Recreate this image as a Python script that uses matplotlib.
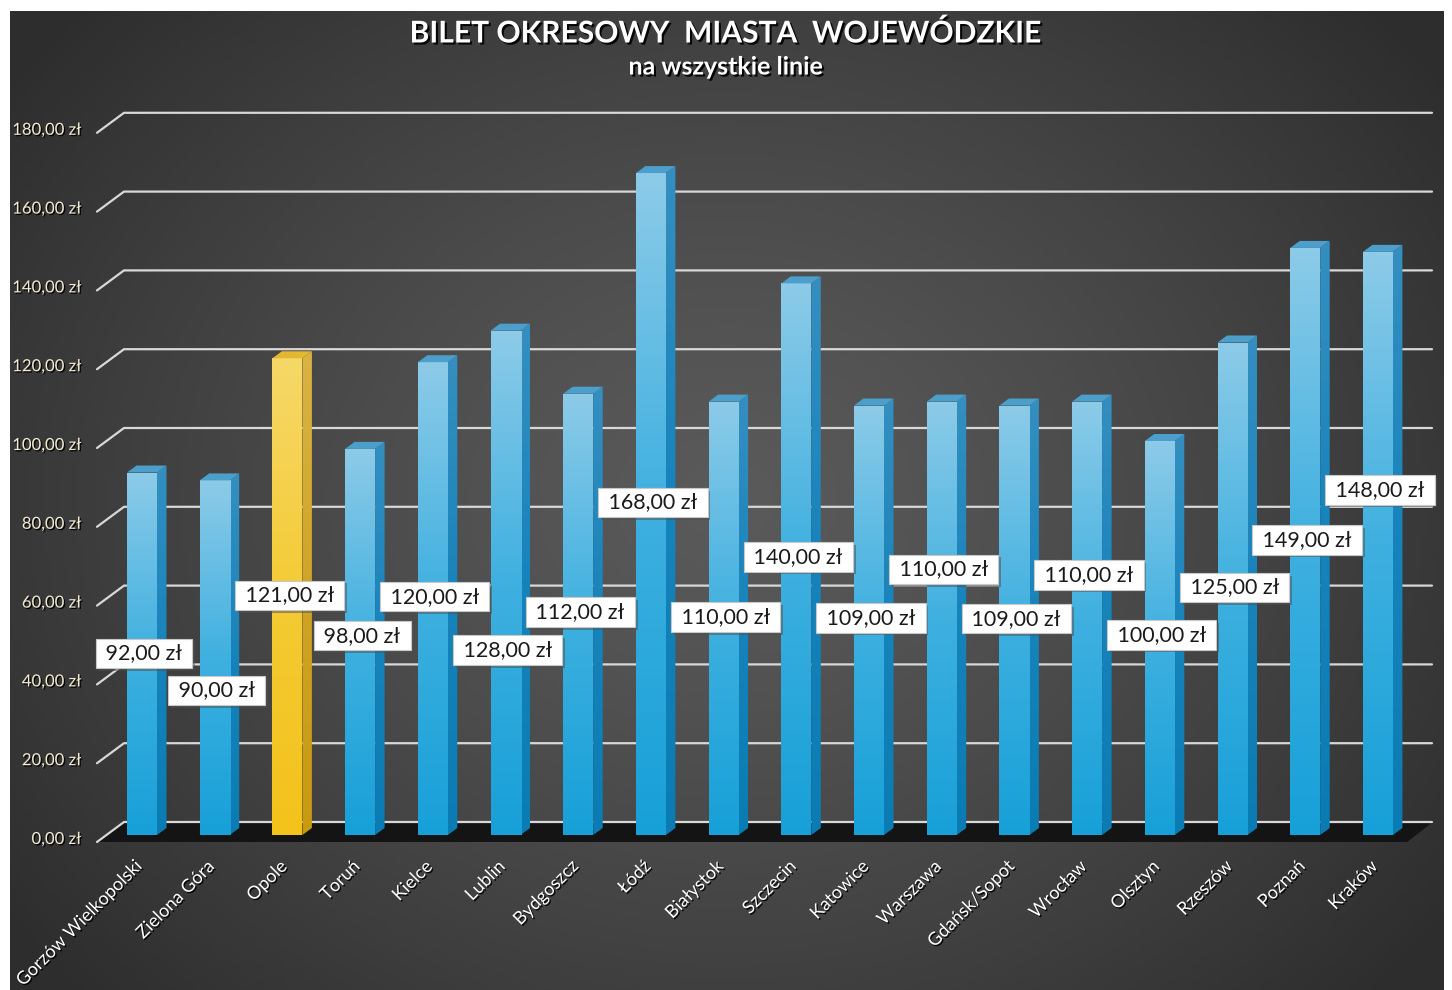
import numpy as np
import matplotlib
matplotlib.use("Agg")
import matplotlib.pyplot as plt
from matplotlib.patches import Polygon
import matplotlib.patheffects as pe
from matplotlib.colors import LinearSegmentedColormap

# ---------------- data ----------------
categories = ["Gorzów Wielkopolski", "Zielona Góra", "Opole", "Toruń", "Kielce", "Lublin",
              "Bydgoszcz", "Łódź", "Białystok", "Szczecin", "Katowice", "Warszawa",
              "Gdańsk/Sopot", "Wrocław", "Olsztyn", "Rzeszów", "Poznań", "Kraków"]
values = [92, 90, 121, 98, 120, 128, 112, 168, 110, 140, 109, 110, 109, 110, 100, 125, 149, 148]
highlight = "Opole"
yticks = [0, 20, 40, 60, 80, 100, 120, 140, 160, 180]
title = "BILET OKRESOWY  MIASTA  WOJEWÓDZKIE"
subtitle = "na wszystkie linie"

# label vertical placement (layout, in value units of the front plane)
label_y = [46.1, 36.7, 60.8, 50.6, 60.5, 46.9, 56.6, 84.4, 55.3, 70.6, 55.1, 67.4,
           54.9, 66.0, 50.8, 62.8, 74.9, 87.6]

def fmt(v):
    return f"{v:.2f}".replace(".", ",") + " zł"

# ---------------- layout (pixels) ----------------
W, H = 1452, 990
X0 = 142.0      # pixel x of first bar centre
STEP = 72.7     # pixel spacing between bars
Y0 = 835.0      # pixel y (from top) of value 0 on bar front plane
PPU = 3.94      # pixels per value unit

def px_x(p):
    return p / STEP

def px_y(p):
    return p / PPU

FONT = "Lato"
plt.rcParams["font.family"] = [FONT, "DejaVu Sans"]

fig = plt.figure(figsize=(W / 100, H / 100), dpi=100, facecolor="white")

# background panel with radial gradient
bg = fig.add_axes([10 / W, 0, 1434 / W, 979 / H])
bg.set_axis_off()
gy, gx = np.mgrid[0:1:300j, 0:1:400j]
r = np.sqrt(((gx - 0.5) / 0.62) ** 2 + ((gy - 0.50) / 0.75) ** 2)
r = np.clip(r, 0, 1)
c_in = np.array([0x5a, 0x5a, 0x5a]) / 255
c_out = np.array([0x2d, 0x2d, 0x2d]) / 255
img = c_in[None, None, :] * (1 - r[..., None] ** 1.3) + c_out[None, None, :] * (r[..., None] ** 1.3)
bg.imshow(img, extent=[0, 1, 0, 1], aspect="auto", origin="upper")
bg.set_xlim(0, 1)
bg.set_ylim(0, 1)

ax = fig.add_axes([0, 0, 1, 1])
ax.patch.set_alpha(0)
ax.set_axis_off()
xlim = (-X0 / STEP, (W - X0) / STEP)
ylim = (-(H - Y0) / PPU, Y0 / PPU)

n = len(categories)
xs = np.arange(n)

shadow = [pe.withSimplePatchShadow(offset=(1, -1), shadow_rgbFace="black", alpha=0.9)]

# --- gridlines (back wall) & floor ---
gx_front = px_x(97 - X0)
gx_back = px_x(124 - X0)
gx_right = px_x(1432 - X0)
dy_front = -px_y(7)
dy_back = px_y(13)

floor = Polygon([[gx_front, dy_front], [px_x(1407 - X0), dy_front],
                 [gx_right + px_x(1), dy_back], [gx_back, dy_back]],
                closed=True, facecolor="#141414", edgecolor="none", zorder=1)
ax.add_patch(floor)

for t in yticks:
    ax.plot([gx_front, gx_back, gx_right], [t + dy_front, t + dy_back, t + dy_back],
            color="#d8d8d8", lw=1.6, zorder=1.5, solid_capstyle="round")
    ax.text(px_x(81 - X0), t + dy_front + px_y(3), fmt(t), ha="right", va="center",
            fontsize=12, color="#f3ecd2", path_effects=shadow)

# --- bars ---
bw = px_x(30)
ddx = px_x(9.5)
ddy = px_y(7)

blue_front = LinearSegmentedColormap.from_list("bf", ["#17a0d8", "#3fb0e0", "#8dcbe8"])
blue_side = LinearSegmentedColormap.from_list("bs", ["#0a7cb3", "#1783bb", "#358fc0"])
yel_front = LinearSegmentedColormap.from_list("yf", ["#f3c21b", "#f4cb35", "#f6d868"])
yel_side = LinearSegmentedColormap.from_list("ys", ["#c79a10", "#cfa526", "#d8b445"])

grad = np.linspace(0, 1, 256)[::-1].reshape(-1, 1)

bars = ax.bar(xs, values, width=bw, color="none", edgecolor="none", zorder=3)
for i, (rect, v, cat) in enumerate(zip(bars, values, categories)):
    yel = cat == highlight
    cf, cs = (yel_front, yel_side) if yel else (blue_front, blue_side)
    xl = rect.get_x()
    xr = xl + rect.get_width()
    side = Polygon([[xr, 0], [xr + ddx, ddy], [xr + ddx, v + ddy], [xr, v]], closed=True,
                   facecolor="none", edgecolor="none", zorder=2.9)
    ax.add_patch(side)
    im = ax.imshow(grad, cmap=cs, extent=[xr, xr + ddx, 0, v + ddy], aspect="auto", zorder=2.9)
    im.set_clip_path(side)
    im2 = ax.imshow(grad, cmap=cf, extent=[xl, xr, 0, v], aspect="auto", zorder=3)
    im2.set_clip_path(rect)
    top = Polygon([[xl, v], [xr, v], [xr + ddx, v + ddy], [xl + ddx, v + ddy]], closed=True,
                  facecolor="#e2b830" if yel else "#4b9fca", edgecolor="none", zorder=3.1)
    ax.add_patch(top)

# --- data labels ---
for i, (v, ly) in enumerate(zip(values, label_y)):
    t = ax.text(i + px_x(2), ly, " " + fmt(v) + " ", ha="center", va="center",
                fontsize=15.5, color="#1a1a1a", zorder=6,
                bbox=dict(boxstyle="square,pad=0.22", fc="white", ec="#c8c8c8", lw=0.8))
    t.get_bbox_patch().set_path_effects([pe.SimplePatchShadow(offset=(2, -2), alpha=0.5), pe.Normal()])

# --- category labels ---
for i, cat in enumerate(categories):
    ax.text(i - px_x(3), -px_y(29), cat, rotation=45, rotation_mode="anchor",
            ha="right", va="center", fontsize=13, color="white", zorder=6,
            path_effects=shadow)

ax.set_xlim(*xlim)
ax.set_ylim(*ylim)

# --- titles ---
tshadow = [pe.withSimplePatchShadow(offset=(1.5, -1.5), shadow_rgbFace="black", alpha=0.9)]
fig.text(725 / W, 1 - 33 / H, title, ha="center", va="center", fontsize=21.6,
         fontweight="bold", color="white", path_effects=tshadow)
fig.text(726 / W, 1 - 67 / H, subtitle, ha="center", va="center", fontsize=18,
         fontweight="bold", color="white", path_effects=tshadow)

fig.savefig("out.png", dpi=100, facecolor="white")
